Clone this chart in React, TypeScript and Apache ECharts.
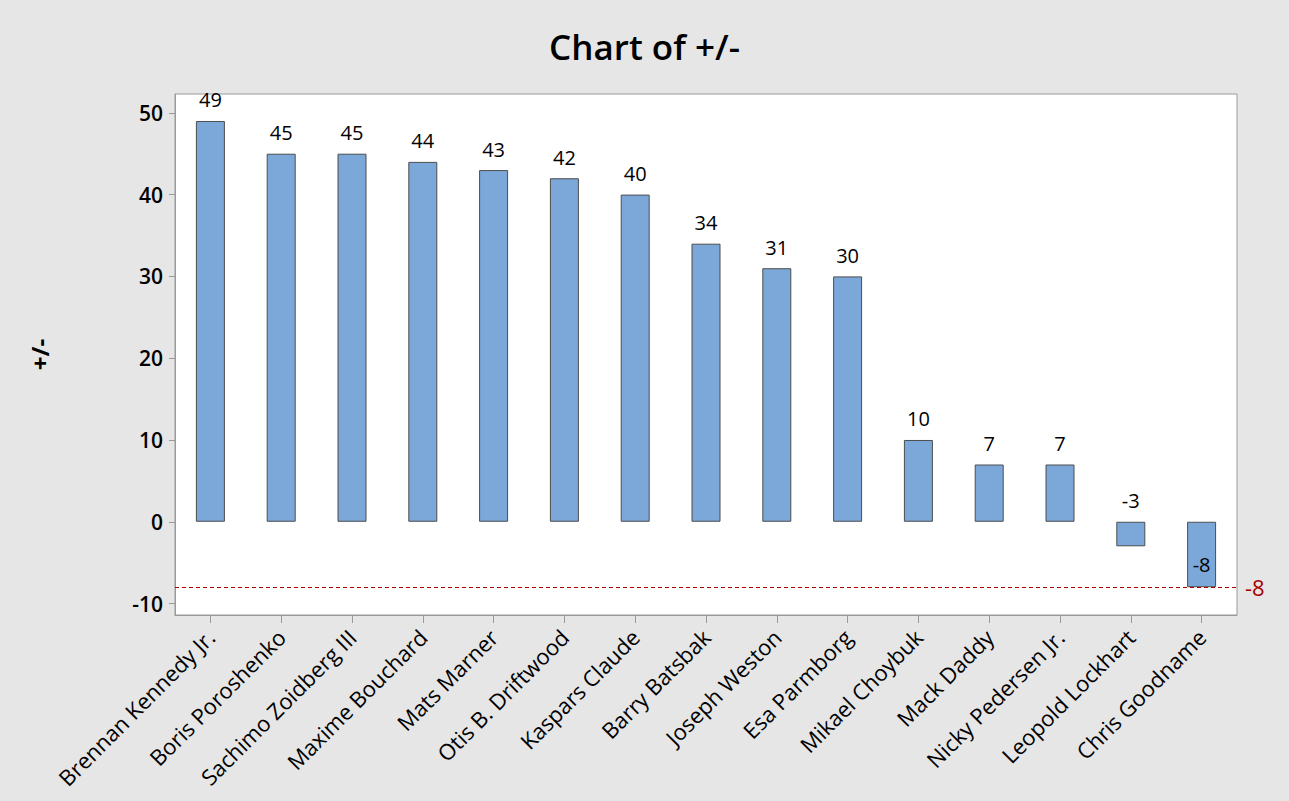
import React, { useEffect, useRef } from "react";
import * as echarts from "echarts";

const categories = [
  "Brennan Kennedy Jr.",
  "Boris Poroshenko",
  "Sachimo Zoidberg III",
  "Maxime Bouchard",
  "Mats Marner",
  "Otis B. Driftwood",
  "Kaspars Claude",
  "Barry Batsbak",
  "Joseph Weston",
  "Esa Parmborg",
  "Mikael Choybuk",
  "Mack Daddy",
  "Nicky Pedersen Jr.",
  "Leopold Lockhart",
  "Chris Goodname",
];
const plusMinus = [49, 45, 45, 44, 43, 42, 40, 34, 31, 30, 10, 7, 7, -3, -8];
const yTicks = [-10, 0, 10, 20, 30, 40, 50];
const refLineValue = -8;

const FONT = "'Open Sans', 'Noto Sans', sans-serif";

export default function App() {
  const ref = useRef<HTMLDivElement>(null);
  useEffect(() => {
    document.body.style.margin = "0";
    if (!ref.current) return;
    const chart = echarts.init(ref.current, null, { renderer: "svg" });
    const data = plusMinus.map((v, i) => {
      if (i === plusMinus.length - 1) {
        return { value: v, label: { position: "inside", offset: [0, 10] } };
      }
      return { value: v };
    });
    chart.setOption({
      animation: false,
      backgroundColor: "#e6e6e6",
      textStyle: { fontFamily: FONT },
      title: {
        text: "Chart of +/-",
        left: "center",
        top: 24,
        textStyle: { fontSize: 35, fontWeight: 600, color: "#000", fontFamily: FONT },
      },
      grid: {
        left: 175,
        right: 52,
        top: 94,
        bottom: 186,
        show: true,
        backgroundColor: "#ffffff",
        borderColor: "#9a9a9a",
        borderWidth: 1,
      },
      xAxis: {
        type: "category",
        data: categories,
        axisLine: { show: true, onZero: false, lineStyle: { color: "#9a9a9a" } },
        axisTick: { show: true, alignWithLabel: true, length: 8, lineStyle: { color: "#9a9a9a" } },
        axisLabel: {
          rotate: 45,
          interval: 0,
          margin: 18,
          fontSize: 22,
          color: "#000",
          fontFamily: FONT,
        },
      },
      yAxis: {
        type: "value",
        min: -11.4,
        max: 52.3,
        name: "+/-",
        nameLocation: "middle",
        nameGap: 124,
        nameRotate: 90,
        nameTextStyle: { fontSize: 24, fontWeight: "bold", color: "#000", fontFamily: FONT },
        splitLine: { show: false },
        axisLine: { show: true, lineStyle: { color: "#9a9a9a" } },
        axisTick: { show: true, length: 6, lineStyle: { color: "#9a9a9a" }, customValues: yTicks },
        axisLabel: {
          fontSize: 21,
          fontWeight: 600,
          color: "#000",
          margin: 12,
          fontFamily: FONT,
          customValues: yTicks,
          formatter: (v: number) => (yTicks.indexOf(v) >= 0 ? String(v) : ""),
        },
      },
      series: [
        {
          type: "bar",
          data,
          barWidth: 29,
          itemStyle: { color: "#7ba7d9", borderColor: "#4d4d4d", borderWidth: 1 },
          label: {
            show: true,
            position: "top",
            distance: 11,
            fontSize: 20,
            color: "#000",
            fontFamily: FONT,
          },
          markLine: {
            silent: true,
            symbol: "none",
            data: [{ yAxis: refLineValue }],
            lineStyle: { type: [4, 3], color: "#a80000", width: 1 },
            label: {
              show: true,
              position: "end",
              formatter: String(refLineValue),
              color: "#a80000",
              fontSize: 22,
              distance: 8,
              fontFamily: FONT,
            },
          },
        },
      ],
    });
    return () => chart.dispose();
  }, []);
  return <div ref={ref} style={{ width: 1289, height: 801 }} />;
}
